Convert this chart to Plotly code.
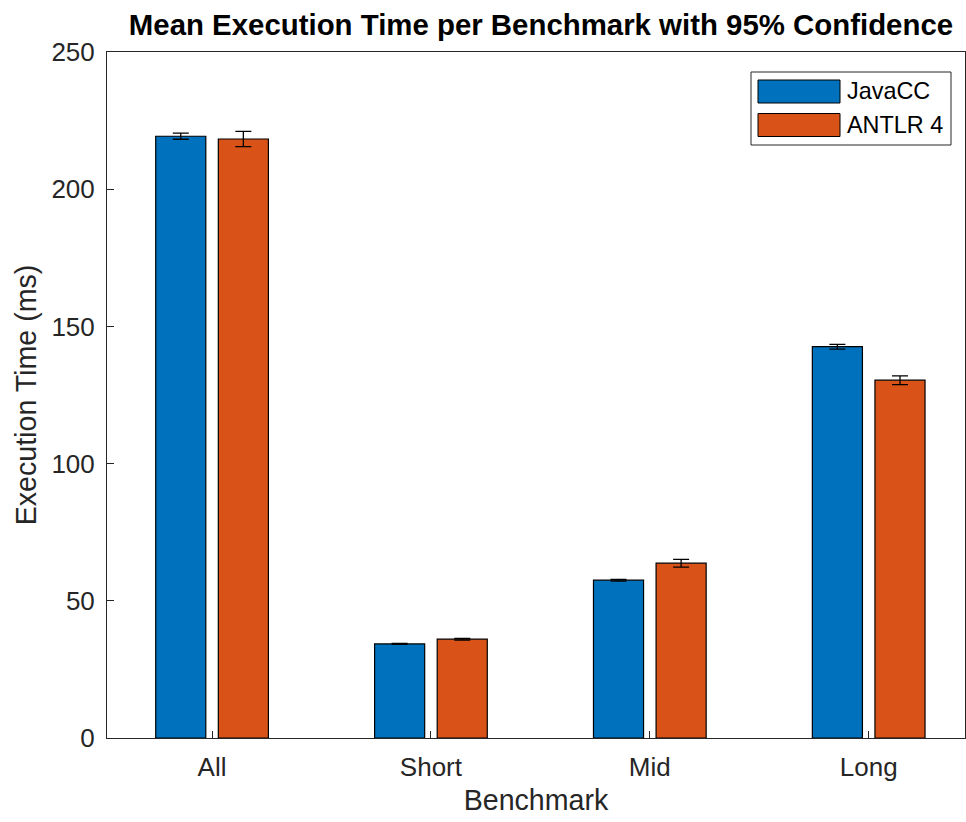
import plotly.graph_objects as go

categories = ["All", "Short", "Mid", "Long"]
series_names = ["JavaCC", "ANTLR 4"]
series_colors = ["#0072BD", "#D95319"]
javacc_mean = [219.3, 34.3, 57.5, 142.6]
javacc_ci = [1.1, 0.2, 0.3, 0.85]
antlr_mean = [218.3, 36.0, 63.7, 130.4]
antlr_ci = [2.8, 0.3, 1.4, 1.6]
x_pos = [1, 2, 3, 4]

fig = go.Figure()
for name, color, mean, ci in zip(series_names, series_colors,
                                 [javacc_mean, antlr_mean], [javacc_ci, antlr_ci]):
    fig.add_trace(go.Bar(
        x=x_pos, y=mean, name=name, showlegend=False,
        marker=dict(color=color, line=dict(color="black", width=1.2)),
        error_y=dict(type="data", array=ci, color="black", thickness=1.3, width=8),
    ))

axis_color = "#262626"

# MATLAB-style legend box with wide swatches (paper coordinates)
L, T, W, H = 107, 52, 858, 686


def px(xp):
    return (xp - L) / W


def py(yp):
    return (T + H - yp) / H


shapes = [dict(type="rect", xref="paper", yref="paper",
               x0=px(751), x1=px(951), y0=py(145), y1=py(72),
               line=dict(color=axis_color, width=1), fillcolor="white", layer="above")]
annotations = []
row_centers = [91.5, 125]
for name, color, yc in zip(series_names, series_colors, row_centers):
    shapes.append(dict(type="rect", xref="paper", yref="paper",
                       x0=px(758), x1=px(840), y0=py(yc + 11.5), y1=py(yc - 11.5),
                       line=dict(color="black", width=1), fillcolor=color, layer="above"))
    annotations.append(dict(text=name, xref="paper", yref="paper",
                            x=px(845), y=py(yc), xanchor="left", yanchor="middle",
                            showarrow=False, font=dict(size=23.4, color="black")))

fig.update_layout(
    width=966, height=822,
    margin=dict(l=L, r=966 - L - W, t=T, b=822 - T - H),
    paper_bgcolor="white", plot_bgcolor="white",
    barmode="group", bargap=0.428, bargroupgap=0.2,
    showlegend=False,
    font=dict(family="Liberation Sans, Arial, sans-serif", color=axis_color),
    title=dict(text="<b>Mean Execution Time per Benchmark with 95% Confidence</b>",
               x=0.56, xanchor="center", y=1 - 25 / 822, yanchor="middle",
               font=dict(size=29.4, color="black")),
    xaxis=dict(
        tickmode="array", tickvals=x_pos, ticktext=categories,
        range=[0.52, 4.44], showgrid=False, zeroline=False,
        showline=True, linecolor=axis_color, linewidth=1, mirror=True,
        ticks="inside", ticklen=7, tickcolor=axis_color,
        tickfont=dict(size=26, color=axis_color), ticklabelstandoff=6,
        title=dict(text="Benchmark", font=dict(size=28.6, color=axis_color), standoff=8),
    ),
    yaxis=dict(
        range=[0, 250], tickvals=[0, 50, 100, 150, 200, 250],
        showgrid=False, zeroline=False,
        showline=True, linecolor=axis_color, linewidth=1, mirror=True,
        ticks="inside", ticklen=7, tickcolor=axis_color,
        tickfont=dict(size=26, color=axis_color), ticklabelstandoff=6,
        title=dict(text="Execution Time (ms)", font=dict(size=28.6, color=axis_color), standoff=6),
    ),
    shapes=shapes,
    annotations=annotations,
)

fig.write_html(
    "out.html",
    config={"displayModeBar": False},
    post_script="document.body.style.margin='0';document.body.style.overflow='hidden';",
)
